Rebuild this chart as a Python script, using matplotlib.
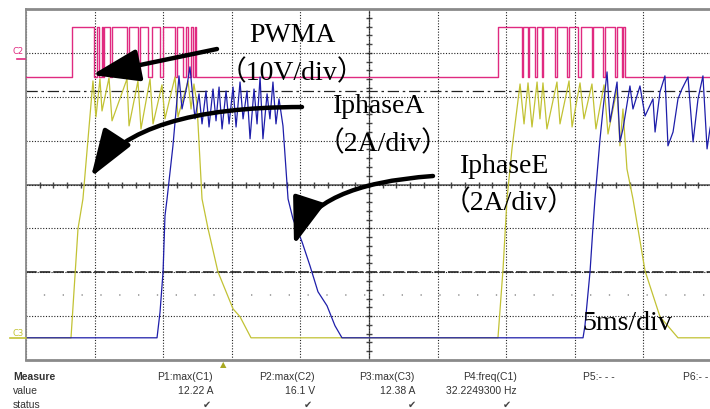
import numpy as np
import matplotlib.pyplot as plt

# scope screen: 10 x 8 divisions, 5 ms/div
ms_per_div = 5
n_xdiv = 10
n_ydiv = 8

# C2 - PWMA gate signal (10 V/div)
pwm_volts_per_div = 10
pwm_offset_div = 2.44
pwm_low = 0.0
pwm_high = 11.6
burst1_on = 3.35
burst1_dips = [(4.98, 5.15), (5.34, 5.52), (5.63, 5.72), (6.12, 6.25), (7.34, 7.51),
               (8.14, 8.31), (8.91, 9.16), (9.77, 10.01), (10.86, 11.03), (11.47, 11.66),
               (11.83, 12.03), (12.17, 12.30)]
burst1_off = 12.40
burst2_on = 34.43
burst2_dips = [(36.13, 36.25), (36.57, 36.68), (37.10, 37.22), (37.59, 37.70), (38.56, 38.68),
               (39.45, 39.58), (40.26, 40.43), (41.23, 41.35), (42.08, 42.20), (42.93, 43.10),
               (43.42, 43.53)]
burst2_off = 43.66

# C1 / C3 - phase currents (2 A/div)
amps_per_div = 2
current_offset_div = -3.494

iphase_a_t = [0, 3.28, 3.79, 4.15, 4.88, 5.10, 5.39, 5.54, 6.05, 6.27,
              7.36, 7.51, 8.16, 8.38, 9.04, 9.26, 9.91, 10.13, 10.86, 11.08,
              11.81, 12.03, 12.24, 12.46, 12.83, 13.27, 13.99, 15.09, 15.60, 16.40,
              34.40, 34.77, 35.06, 35.42, 36.01, 36.30, 36.59, 36.88, 37.25, 37.46,
              37.68, 37.97, 38.70, 38.92, 39.58, 39.80, 40.38, 40.67, 41.25, 41.54,
              42.13, 42.42, 43.08, 43.29, 43.51, 43.80, 44.24, 45.12, 46.21, 47.52, 50]
iphase_a_amp = [0, 0, 4.97, 6.33, 11.71, 10.07, 11.80, 10.34, 11.85, 9.89,
                11.80, 9.66, 11.71, 9.52, 11.80, 9.75, 11.53, 9.98, 11.89, 10.07,
                11.71, 10.43, 11.57, 10.66, 6.33, 4.97, 3.01, 1.32, 0.96, 0,
                0, 3.14, 6.33, 8.61, 11.57, 9.75, 11.62, 9.61, 11.66, 9.98,
                11.62, 9.52, 11.66, 9.75, 11.71, 9.61, 11.62, 9.98, 11.57, 9.52,
                11.53, 9.29, 11.34, 8.75, 10.43, 7.70, 6.33, 3.05, 0.96, 0, 0]

iphase_e_t = [0, 9.55, 9.77, 9.99, 10.13, 10.28, 10.71, 11.01, 11.15, 11.37,
              11.73, 11.95, 12.17, 12.32, 12.61, 12.83, 13.12, 13.34, 13.63, 13.85,
              14.07, 14.29, 14.58, 14.80, 15.09, 15.31, 15.60, 15.82, 16.11, 16.33,
              16.62, 16.84, 17.06, 17.27, 17.57, 17.78, 18.00, 18.22, 18.44, 18.73,
              19.10, 19.46, 20.12, 20.70, 21.28, 21.94, 22.52, 23.03,
              40.60, 40.74, 41.11, 41.33, 41.47, 41.84, 42.06, 42.35, 42.57, 43.08,
              43.29, 43.51, 44.02, 44.24, 44.75, 45.12, 45.70, 45.85, 46.21, 46.57,
              46.79, 47.16, 47.52, 47.81, 48.25, 48.62, 48.98, 49.34, 49.64, 49.85, 50]
iphase_e_amp = [0, 0, 1.18, 3.01, 5.56, 6.33, 8.75, 10.89, 11.94, 10.43,
                11.48, 12.35, 10.89, 9.98, 11.12, 9.75, 11.25, 9.61, 11.34, 9.89,
                11.43, 9.52, 11.25, 9.75, 11.43, 9.61, 11.66, 9.98, 11.25, 9.07,
                11.34, 9.75, 11.89, 9.07, 11.12, 9.98, 11.66, 9.75, 10.89, 9.66,
                6.33, 5.42, 4.37, 3.28, 2.10, 1.46, 0.55, 0,
                0, 0.55, 3.01, 5.10, 6.33, 9.07, 10.43, 12.12, 9.84, 11.66,
                8.93, 9.52, 11.48, 10.43, 11.48, 10.11, 10.89, 9.38, 11.21, 11.94,
                8.75, 9.38, 10.89, 11.34, 11.89, 8.93, 10.89, 11.94, 8.61, 9.52, 9.98]

# measurement table
meas_names = ["P1:max(C1)", "P2:max(C2)", "P3:max(C3)", "P4:freq(C1)"]
meas_values = ["12.22 A", "16.1 V", "12.38 A", "32.2249300 Hz"]

PINK = '#e02a80'
YELLOW = '#c2c234'
BLUE = '#1e1eaa'
FRAME = '#8a8a8a'


def pwm_steps(on, dips, off):
    t = [0, on]
    v = [pwm_low, pwm_high]
    for d, u in dips:
        t += [d, u]
        v += [pwm_low, pwm_high]
    t.append(off)
    v.append(pwm_low)
    return t, v


def px(x, y):
    return x / 710, 1 - y / 410


fig = plt.figure(figsize=(7.1, 4.1), dpi=100)
ax = fig.add_axes([26 / 710, 1 - 361 / 410, 686 / 710, 351 / 410])
ax.set_xlim(0, n_xdiv * ms_per_div)
ax.set_ylim(-n_ydiv / 2, n_ydiv / 2)

# graticule
ax.set_xticks(np.arange(0, n_xdiv * ms_per_div + 1, ms_per_div))
ax.set_yticks(np.arange(-n_ydiv / 2, n_ydiv / 2 + 1, 1))
ax.tick_params(length=0, labelbottom=False, labelleft=False)
ax.grid(True, color='#222222', lw=0.8, ls=(0, (1, 1.5)))
for s in ['top', 'bottom']:
    ax.spines[s].set_color(FRAME)
    ax.spines[s].set_linewidth(2)
ax.spines['left'].set_color(FRAME)
ax.spines['left'].set_linewidth(1.3)
ax.spines['right'].set_visible(False)

ax.axhline(0, color='#777777', lw=1.4, zorder=1)
ax.axvline(25, color='#555555', lw=0.9, zorder=1)
ax.plot(np.arange(1, 50), np.zeros(49), ls='none', marker='|', ms=5, mew=1, color='#444444', zorder=1)
ax.plot(np.full(39, 25.0), np.arange(-3.8, 4, 0.2), ls='none', marker='_', ms=5, mew=1, color='#444444', zorder=1)
ax.axhline(-2, color='#444444', lw=1.4, ls=(0, (5.5, 1.5)), zorder=1)
ax.axhline(2.13, color='#222222', lw=0.9, ls=(0, (9, 3, 2, 3)), zorder=1)
ax.axhline(-2.515, color='#999999', lw=1.2, ls=(0.6, (0.8, 10.5)), zorder=1)

# traces
t1, v1 = pwm_steps(burst1_on, burst1_dips, burst1_off)
t2, v2 = pwm_steps(burst2_on, burst2_dips, burst2_off)
pwm_t = t1 + t2[1:] + [n_xdiv * ms_per_div]
pwm_v = v1 + v2[1:] + [pwm_low]
ax.step(pwm_t, np.array(pwm_v) / pwm_volts_per_div + pwm_offset_div, where='post',
        color=PINK, lw=1.0, zorder=3)
ax.plot(iphase_a_t, np.array(iphase_a_amp) / amps_per_div + current_offset_div,
        color=YELLOW, lw=0.9, zorder=3)
ax.plot(iphase_e_t, np.array(iphase_e_amp) / amps_per_div + current_offset_div,
        color=BLUE, lw=0.9, zorder=4)

# channel markers
fig.text(*px(18, 52), "C2", color=PINK, fontsize=6, ha='center', va='center')
fig.add_artist(plt.Line2D([17 / 710, 25 / 710], [1 - 60 / 410] * 2, color=PINK, lw=1.2))
fig.text(*px(18, 333), "C3", color=YELLOW, fontsize=6, ha='center', va='center')
fig.add_artist(plt.Line2D([10 / 710, 26 / 710], [1 - 339 / 410] * 2, color=YELLOW, lw=1.2))
fig.text(*px(223, 365), "\u25B2", color='#a8a820', fontsize=6, ha='center', va='center')

# annotations
serif = ['Liberation Serif', 'Noto Sans CJK SC']
fs = 20
fig.text(*px(292, 41.7), "PWMA", family=serif, fontsize=fs, ha='center', va='baseline')
fig.text(*px(292, 80), "（10V/div）", family=serif, fontsize=fs, ha='center', va='baseline')
fig.text(*px(379, 113.3), "IphaseA", family=serif, fontsize=fs, ha='center', va='baseline')
fig.text(*px(383, 151.7), "（2A/div）", family=serif, fontsize=fs, ha='center', va='baseline')
fig.text(*px(505, 173.3), "IphaseE", family=serif, fontsize=fs, ha='center', va='baseline')
fig.text(*px(509, 210), "（2A/div）", family=serif, fontsize=fs, ha='center', va='baseline')
fig.text(*px(627, 330), "5ms/div", family=serif, fontsize=fs, ha='center', va='baseline')

arrow_style = '-|>,head_length=2.9,head_width=1.0'
arrows = [((217, 50), (92, 76), 'arc3,rad=0'),
          ((302, 108), (91, 178), 'angle3,angleA=0,angleB=57'),
          ((433, 177), (294, 246), 'angle3,angleA=4,angleB=72')]
for start, tip, conn in arrows:
    fig.add_artist(plt.matplotlib.patches.FancyArrowPatch(
        px(*start), px(*tip), transform=fig.transFigure, arrowstyle=arrow_style,
        connectionstyle=conn, mutation_scale=10, lw=3.2, color='black',
        shrinkA=0, shrinkB=0, zorder=10))

# measure table
sans = 'Liberation Sans'
tc = '#333333'
mfs = 7.5
fig.text(*px(13, 377), "Measure", family=sans, fontsize=mfs, weight='bold', color=tc, va='center')
fig.text(*px(13, 391), "value", family=sans, fontsize=mfs, color=tc, va='center')
fig.text(*px(13, 405), "status", family=sans, fontsize=mfs, color=tc, va='center')
col_right = [213, 315, 415, 517]
check_x = [207, 308, 412, 507]
for name, val, xr, xc in zip(meas_names, meas_values, col_right, check_x):
    fig.text(*px(xr, 377), name, family=sans, fontsize=mfs, color=tc, ha='right', va='center')
    fig.text(*px(xr, 391), val, family=sans, fontsize=mfs, color=tc, ha='right', va='center')
    fig.text(*px(xc, 405), "\u2714", family='DejaVu Sans', fontsize=7, color='#444444', ha='center', va='center')
fig.text(*px(583, 377), "P5:- - -", family=sans, fontsize=mfs, color=tc, va='center')
fig.text(*px(683, 377), "P6:- -", family=sans, fontsize=mfs, color=tc, va='center')

fig.savefig('out.png', dpi=100)
